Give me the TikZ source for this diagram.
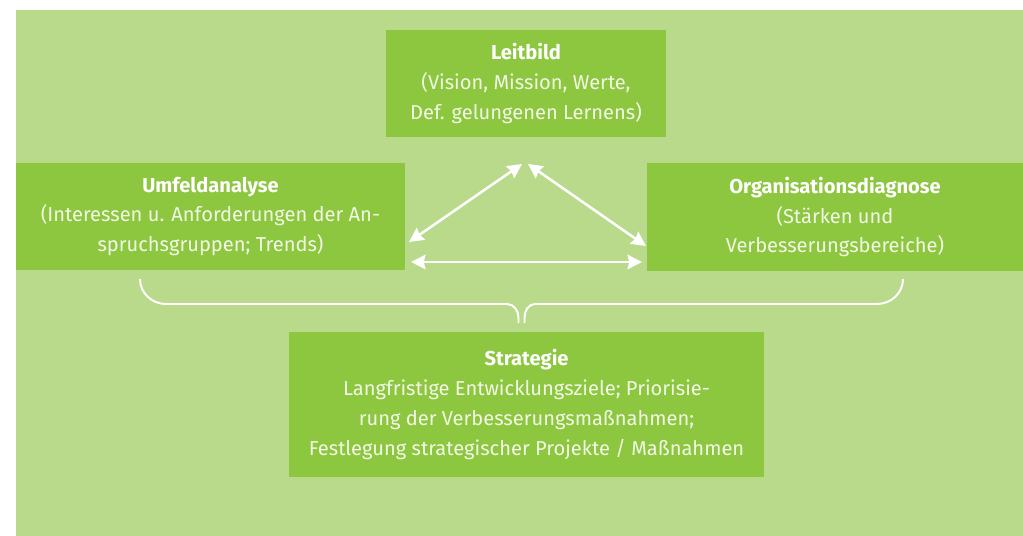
\documentclass[tikz,border=0pt]{standalone}
\usepackage{fontspec}
\setmainfont{Fira Sans}
\usetikzlibrary{arrows.meta, positioning}
\definecolor{bglight}{HTML}{B9DA8A}
\definecolor{boxgreen}{HTML}{8DC63F}
\definecolor{boxtext}{HTML}{F2F8E6}

\begin{document}
\begin{tikzpicture}[x=0.025cm, y=-0.025cm, >={Stealth[length=0.36cm, width=0.36cm, inset=0.04cm]},
  box/.style={fill=boxgreen, rectangle, inner sep=0pt, align=center, text=boxtext,
    font=\fontsize{14.3}{21.3}\selectfont, minimum height=2.675cm},
  link/.style={draw=white, line width=1.8pt, <->},
  brace/.style={draw=white, line width=1.4pt}]
\useasboundingbox (0,0) rectangle (1023,536);
% --- background ---
\fill[bglight] (16,10) rectangle (1023,536);
% --- boxes ---
\node[box, minimum width=7cm] (leitbild) at (526,83.5)
  {\textbf{\color{white}Leitbild}\\(Vision, Mission, Werte,\\Def. gelungenen Lernens)};
\node[box, minimum width=9.725cm] (umfeld) at (210.5,216.5)
  {\textbf{\color{white}Umfeldanalyse}\\(Interessen u. Anforderungen der An-\\spruchsgruppen; Trends)};
\node[box, minimum width=9.4cm] (orga) at (835,217)
  {\textbf{\color{white}Organisationsdiagnose}\\(St\"arken und\\Verbesserungsbereiche)};
\node[box, minimum width=11.875cm, minimum height=3.625cm] (strategie) at (526.5,404.5)
  {\textbf{\color{white}Strategie}\\Langfristige Entwicklungsziele; Priorisie-\\rung der Verbesserungsma\ss nahmen;\\Festlegung strategischer Projekte / Ma\ss nahmen};
% --- arrow ends ---
\coordinate (umf-top) at (409,242);
\coordinate (leit-l) at (522,164);
\coordinate (leit-r) at (528,164);
\coordinate (orga-top) at (646,246);
\coordinate (umf-bot) at (411,262);
\coordinate (orga-bot) at (642,262);
\draw[link] (umf-top) -- (leit-l);
\draw[link] (leit-r) -- (orga-top);
\draw[link] (umf-bot) -- (orga-bot);
% --- brace ---
\draw[brace] (140,279) to[out=-90, in=180] (166,304) -- (507,304) to[out=0, in=90] (518.5,318) -- (518.5,323);
\draw[brace] (903,279) to[out=-90, in=0] (877,304) -- (535,304) to[out=180, in=90] (524.5,318) -- (524.5,323);
\end{tikzpicture}
\end{document}
